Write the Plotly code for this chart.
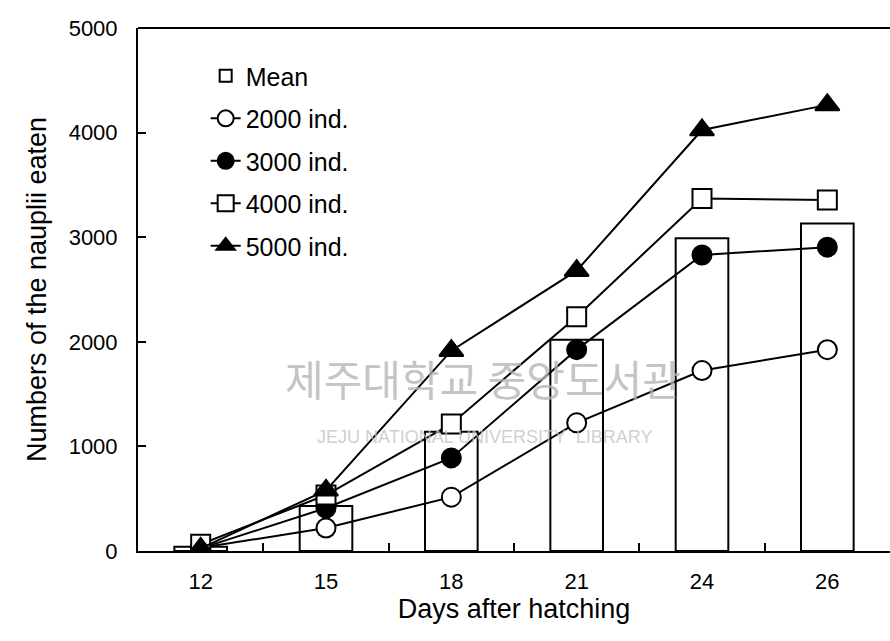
import plotly.graph_objects as go

# Days after hatching (categorical x axis)
days = ["12", "15", "18", "21", "24", "26"]

# Cumulative numbers of nauplii eaten
mean_eaten = [40, 430, 1140, 2020, 2990, 3130]
ind_2000 = [30, 220, 515, 1225, 1725, 1925]
ind_3000 = [25, 411, 890, 1925, 2830, 2905]
ind_4000 = [65, 535, 1215, 2240, 3370, 3355]
ind_5000 = [25, 580, 1915, 2680, 4025, 4265]

y_ticks = [0, 1000, 2000, 3000, 4000, 5000]

FONT = "Liberation Sans, Arial, sans-serif"
BLACK = "#000000"

fig = go.Figure()

fig.add_trace(go.Bar(
    x=days, y=mean_eaten, name="Mean", width=0.42,
    marker=dict(color="white", line=dict(color=BLACK, width=2)),
    legendgroup="mean",
))

series = [
    ("2000 ind.", ind_2000, "circle", "white"),
    ("3000 ind.", ind_3000, "circle", BLACK),
    ("4000 ind.", ind_4000, "square", "white"),
    ("5000 ind.", ind_5000, "triangle-up", BLACK),
]
for name, vals, sym, fill in series:
    fig.add_trace(go.Scatter(
        x=days, y=vals, name=name, mode="lines+markers",
        line=dict(color=BLACK, width=2),
        marker=dict(symbol=sym, size=19 if sym != "triangle-up" else 21,
                    color=fill, line=dict(color=BLACK, width=2)),
        legendgroup=name,
    ))

# Library watermark
fig.add_annotation(
    text="제주대학교 중앙도서관", xref="paper", yref="paper",
    x=(483 - 138) / 752, y=(551 - 410) / 523, showarrow=False,
    font=dict(family="Noto Sans CJK KR", size=42, color="rgba(180,180,180,0.8)"),
)
fig.add_annotation(
    text="JEJU NATIONAL UNIVERSITY  LIBRARY", xref="paper", yref="paper",
    x=(484 - 138) / 752, y=(551 - 449) / 523, showarrow=False,
    font=dict(family=FONT, size=18, color="rgba(195,195,195,0.8)"),
)

# Top frame line
fig.add_shape(type="line", xref="paper", yref="paper", x0=0, x1=1, y0=1, y1=1,
              line=dict(color=BLACK, width=2))

fig.update_layout(
    width=890, height=641,
    margin=dict(l=138, r=0, t=28, b=90),
    paper_bgcolor="white", plot_bgcolor="white",
    font=dict(family=FONT, color=BLACK, size=22),
    showlegend=True,
    legend=dict(
        x=0.09, y=0.952, xanchor="left", yanchor="top",
        bgcolor="rgba(0,0,0,0)", font=dict(size=25, family=FONT),
        tracegroupgap=7, traceorder="grouped",
    ),
    xaxis=dict(
        type="category", range=[-0.5, 5.5],
        showline=True, linecolor=BLACK, linewidth=2,
        ticks="inside", tickson="boundaries", ticklen=8, tickwidth=1.5, tickcolor=BLACK,
        showgrid=False, zeroline=False,
        tickfont=dict(size=22), ticklabelstandoff=10,
        title=dict(text="Days after hatching", font=dict(size=27), standoff=6),
    ),
    yaxis=dict(
        range=[0, 5000], tickvals=y_ticks,
        showline=True, linecolor=BLACK, linewidth=2,
        ticks="inside", ticklen=8, tickwidth=1.5, tickcolor=BLACK,
        showgrid=False, zeroline=False,
        tickfont=dict(size=22), ticklabelstandoff=14,
        title=dict(text="Numbers of the nauplii eaten", font=dict(size=27), standoff=14),
    ),
)

fig.write_html("out.html")
